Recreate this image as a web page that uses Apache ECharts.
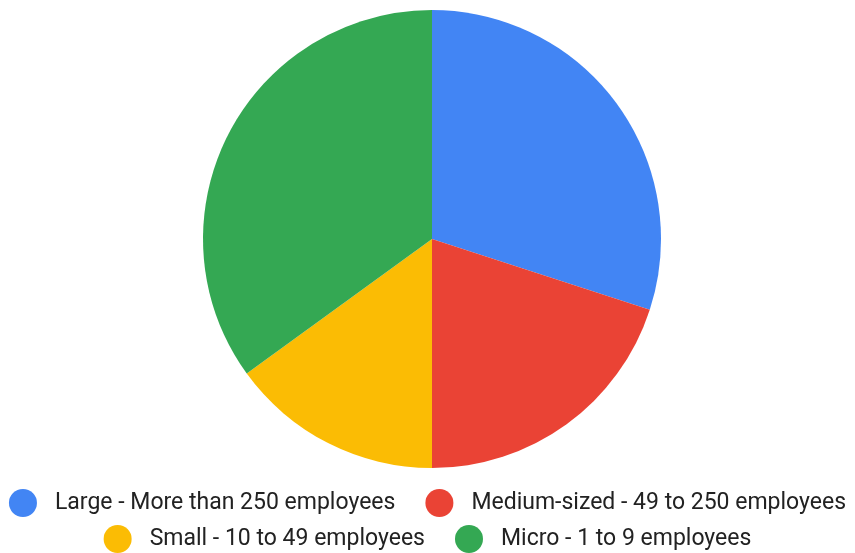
<!DOCTYPE html>
<html><head><meta charset="utf-8">
<script src="https://cdn.jsdelivr.net/npm/echarts@6/dist/echarts.min.js"></script>
<style>html,body{margin:0;padding:0;background:#fff}#c{width:855px;height:553px}</style>
</head><body><div id="c"></div>
<script>
const categories = ["Large - More than 250 employees","Medium-sized - 49 to 250 employees","Small - 10 to 49 employees","Micro - 1 to 9 employees"];
const values = [30, 20, 15, 35];
const colors = ["#4285F4","#EA4335","#FBBC04","#34A853"];
const chart = echarts.init(document.getElementById('c'));
const legendBase = {
  orient: 'horizontal', left: 'center', icon: 'circle', padding: 0,
  itemWidth: 28, itemHeight: 28, itemGap: 30,
  textStyle: {fontFamily: 'Roboto', fontSize: 23, color: '#222', padding: [0,0,0,13]},
  selectedMode: false
};
chart.setOption({
  animation: false,
  color: colors,
  legend: [
    Object.assign({}, legendBase, {top: 489, data: categories.slice(0,2)}),
    Object.assign({}, legendBase, {top: 525, data: categories.slice(2)})
  ],
  series: [{
    type: 'pie', center: [432, 239], radius: 229, startAngle: 90, clockwise: true,
    label: {show: false}, labelLine: {show: false}, silent: true,
    data: categories.map((n,i)=>({name:n, value: values[i]}))
  }]
});
</script></body></html>
